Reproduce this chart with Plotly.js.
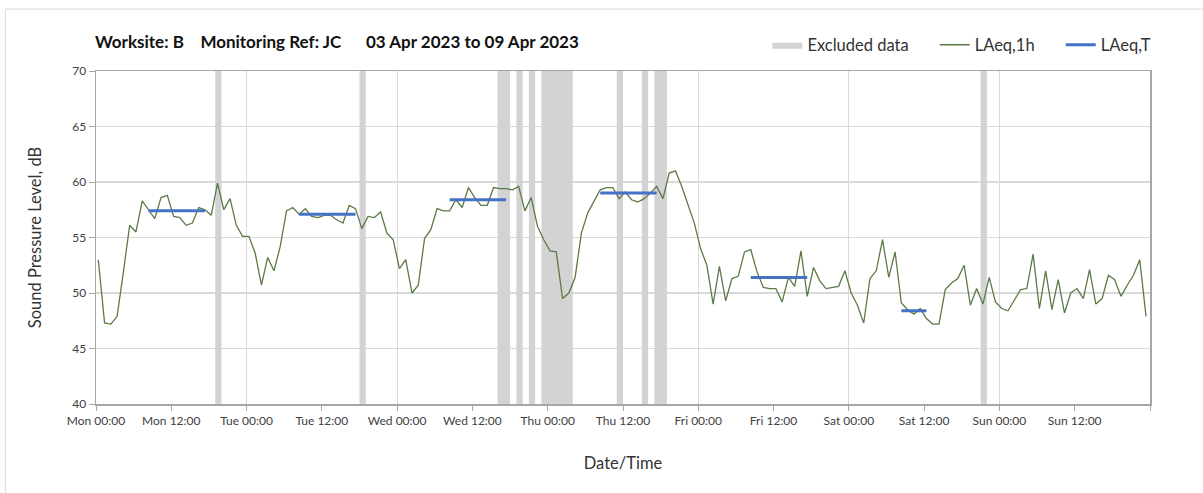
<!DOCTYPE html>
<html>
<head>
<meta charset="utf-8">
<script src="https://cdn.plot.ly/plotly-3.0.1.min.js"></script>
<style>html,body{margin:0;padding:0;background:#fff;}#chart{width:1203px;height:493px;}</style>
</head>
<body>
<div id="chart"></div>
<script>
// ---- Data ----
const seriesStart = "2023-04-03T00:22:00"; // first hourly LAeq,1h sample
const laeq1h = [
  53.0, 47.3, 47.2, 47.9, 51.9, 56.1, 55.5, 58.3, 57.5, 56.7, 58.6, 58.8,
  56.9, 56.8, 56.1, 56.3, 57.7, 57.5, 57.0, 59.9, 57.5, 58.5, 56.1, 55.1,
  55.1, 53.6, 50.7, 53.2, 52.0, 54.2, 57.4, 57.7, 57.1, 57.6, 56.9, 56.8,
  57.0, 57.0, 56.6, 56.3, 57.9, 57.6, 55.8, 56.9, 56.8, 57.3, 55.4, 54.8,
  52.2, 53.0, 50.0, 50.7, 54.9, 55.7, 57.6, 57.4, 57.4, 58.4, 57.7, 59.5,
  58.6, 57.9, 57.9, 59.5, 59.4, 59.4, 59.3, 59.6, 57.4, 58.6, 56.0, 54.8,
  53.8, 53.7, 49.5, 50.0, 51.4, 55.4, 57.2, 58.2, 59.3, 59.5, 59.5, 58.5,
  59.1, 58.4, 58.2, 58.5, 59.0, 59.6, 58.5, 60.8, 61.0, 59.6, 58.0, 56.3,
  54.0, 52.5, 49.0, 52.4, 49.3, 51.3, 51.5, 53.7, 53.9, 51.9, 50.5, 50.4,
  50.4, 49.2, 51.4, 50.6, 53.8, 49.7, 52.3, 51.1, 50.4, 50.5, 50.6, 52.0,
  50.0, 48.9, 47.3, 51.3, 52.0, 54.8, 51.4, 53.7, 49.1, 48.5, 48.1, 48.6,
  47.7, 47.2, 47.2, 50.3, 50.9, 51.3, 52.5, 48.9, 50.4, 49.0, 51.4, 49.2,
  48.6, 48.4, 49.4, 50.3, 50.4, 53.5, 48.6, 52.0, 48.5, 51.2, 48.2, 50.0,
  50.4, 49.5, 52.1, 49.0, 49.5, 51.6, 51.2, 49.7, 50.7, 51.6, 53.0, 47.9
];
// LAeq,T periods (indices into the hourly series) and values
const laeqTFrom  = [8, 32, 56, 80, 104, 128];
const laeqTTo    = [17, 41, 65, 89, 113, 132];
const laeqTValue = [57.4, 57.1, 58.4, 59.0, 51.4, 48.4];
// Excluded data periods
const excludedFrom = ["2023-04-03 19:00","2023-04-04 18:00","2023-04-05 16:00","2023-04-05 19:00","2023-04-05 21:00",
                      "2023-04-05 23:00","2023-04-06 11:00","2023-04-06 15:00","2023-04-06 17:00","2023-04-08 21:00"];
const excludedTo   = ["2023-04-03 20:00","2023-04-04 19:00","2023-04-05 18:00","2023-04-05 20:00","2023-04-05 22:00",
                      "2023-04-06 04:00","2023-04-06 12:00","2023-04-06 16:00","2023-04-06 19:00","2023-04-08 22:00"];
const yRange = [40, 70];
const xRange = ["2023-04-03 00:00", "2023-04-10 00:00"];
const dayNames = ["Mon", "Tue", "Wed", "Thu", "Fri", "Sat", "Sun"];
const titleText = "Worksite: B\u00a0\u00a0\u00a0\u00a0Monitoring Ref: JC\u00a0\u00a0\u00a0\u00a0\u00a0\u00a003 Apr 2023 to 09 Apr 2023";

// ---- Build ----
const HOUR = 3600000;
function fmt(ms){ const d=new Date(ms); const p=n=>String(n).padStart(2,'0');
  return d.getUTCFullYear()+'-'+p(d.getUTCMonth()+1)+'-'+p(d.getUTCDate())+' '+p(d.getUTCHours())+':'+p(d.getUTCMinutes()); }
const toMs = s => Date.parse(s.replace(' ', 'T') + 'Z');
const t0 = toMs(seriesStart.replace('T', ' '));
const times = laeq1h.map((_, i) => fmt(t0 + i * HOUR));
const tx = [], ty = [];
laeqTFrom.forEach((f, k) => {
  for (let i = f; i <= laeqTTo[k]; i++) { tx.push(times[i]); ty.push(laeqTValue[k]); }
  tx.push(times[laeqTTo[k]]); ty.push(null);
});
// excluded periods as filled polygons
const ex = [], ey = [];
excludedFrom.forEach((s, i) => {
  const e = excludedTo[i];
  ex.push(s, s, e, e, s, null);
  ey.push(yRange[0], yRange[1], yRange[1], yRange[0], yRange[0], null);
});
// x tick values every 12 h; the closing tick keeps no label
const xStart = toMs(xRange[0]), xEnd = toMs(xRange[1]);
const tickvals = [], ticktext = [];
for (let t = xStart, k = 0; t <= xEnd; t += 12 * HOUR, k++) {
  tickvals.push(fmt(t));
  ticktext.push(t < xEnd ? dayNames[Math.floor(k / 2) % 7] + (k % 2 ? " 12:00" : " 00:00") : "");
}

const font = "Lato, 'Open Sans', sans-serif";
const pad = "\u00a0\u00a0\u00a0\u00a0\u00a0";
const traces = [
  { type: 'scatter', mode: 'lines', name: 'Excluded data' + pad, x: ex, y: ey, fill: 'toself',
    fillcolor: '#d3d3d3', line: { width: 0, color: '#d3d3d3' }, hoverinfo: 'skip' },
  { type: 'scatter', mode: 'lines', name: 'LAeq,1h' + pad, x: times, y: laeq1h,
    line: { color: '#5b7a46', width: 1.3 } },
  { type: 'scatter', mode: 'lines', name: 'LAeq,T', x: tx, y: ty, connectgaps: false,
    line: { color: '#4472c4', width: 3 } },
  { type: 'scatter', mode: 'lines', x: [xRange[0]], y: [null], xaxis: 'x2', showlegend: false, hoverinfo: 'skip' }
];

const layout = {
  width: 1203, height: 493,
  margin: { l: 96, r: 53, t: 71, b: 89 },
  paper_bgcolor: '#ffffff', plot_bgcolor: '#ffffff',
  font: { family: font, color: '#404040', size: 12 },
  title: { text: titleText, font: { family: font, size: 17, color: '#111', weight: 'bold' },
           x: 95 / 1203, xanchor: 'left', xref: 'container', y: 1 - 42 / 493, yanchor: 'middle', yref: 'container' },
  showlegend: true,
  legend: { orientation: 'h', x: 0.637, xanchor: 'left', y: 1.078, yanchor: 'middle',
            font: { family: font, size: 16.5, color: '#333' }, bgcolor: 'rgba(0,0,0,0)', traceorder: 'normal' },
  xaxis: {
    type: 'date', range: xRange, tickmode: 'array', tickvals: tickvals, ticktext: ticktext,
    showgrid: false, zeroline: false, showline: true, linecolor: '#a6a6a6', linewidth: 1.5, mirror: true,
    ticks: 'outside', ticklen: 5, tickcolor: '#a6a6a6', tickfont: { size: 12, color: '#404040' },
    title: { text: 'Date/Time', font: { size: 16.5, color: '#333' }, standoff: 30 }
  },
  xaxis2: {
    type: 'date', overlaying: 'x', matches: 'x', range: xRange, dtick: 24 * HOUR, tick0: xRange[0],
    showgrid: true, gridcolor: '#d9d9d9', gridwidth: 1, showticklabels: false, ticks: '', showline: false, zeroline: false
  },
  yaxis: {
    range: yRange, dtick: 5, showgrid: true, gridcolor: '#d9d9d9', gridwidth: 1.2, zeroline: false,
    showline: true, linecolor: '#a6a6a6', linewidth: 1.5, mirror: true,
    ticks: 'outside', ticklen: 6, tickcolor: '#a6a6a6', tickfont: { size: 12, color: '#404040' },
    title: { text: 'Sound Pressure Level, dB', font: { size: 16.5, color: '#333' }, standoff: 26 }
  },
  shapes: [
    { type: 'rect', xref: 'paper', yref: 'paper', x0: -0.086, x1: 1.2, y0: -0.5, y1: 1.186,
      line: { color: '#d9d9d9', width: 1 }, fillcolor: 'rgba(0,0,0,0)', layer: 'below' }
  ]
};

Plotly.newPlot('chart', traces, layout, { staticPlot: true, displayModeBar: false });
</script>
</body>
</html>
